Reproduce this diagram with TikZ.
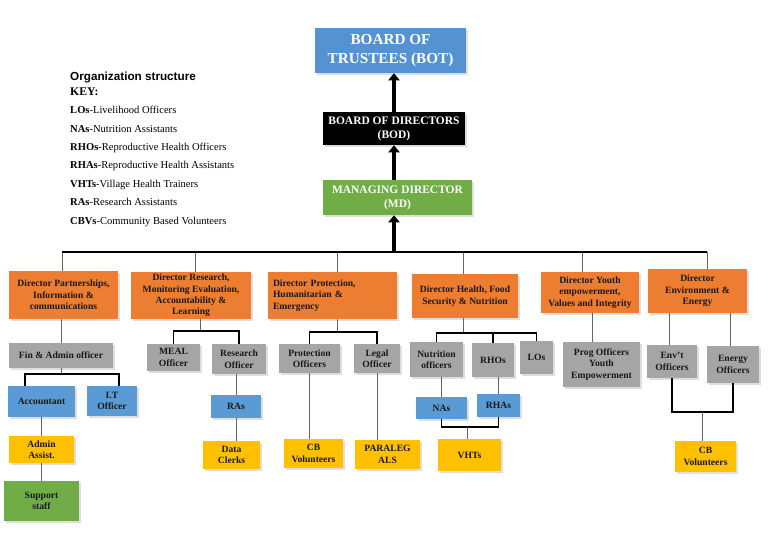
\documentclass[tikz,border=0pt]{standalone}
\usepackage{fontspec}
\setmainfont{Liberation Serif}
\newfontfamily\arialfont{Liberation Sans}
\usepackage{tikz}
\usetikzlibrary{positioning,shadows,arrows.meta}
\definecolor{botblue}{HTML}{5592D2}
\definecolor{boxblue}{HTML}{5B9BD5}
\definecolor{dirorange}{HTML}{ED7D31}
\definecolor{offgray}{HTML}{A5A5A5}
\definecolor{volyellow}{HTML}{FFC000}
\definecolor{mdgreen}{HTML}{70AD47}
\newcommand{\px}{0.03cm}

\begin{document}
\begin{tikzpicture}[x=0.03cm,y=-0.03cm,
  orgbox/.style={draw=none,inner sep=0pt,align=center,text=black!90,
    font=\bfseries\fontsize{8.2}{9.8}\selectfont,
    drop shadow={shadow xshift=1.5pt,shadow yshift=-1.5pt,fill=black!13,opacity=1}},
  dims/.style 2 args={minimum width=#1*\px,minimum height=#2*\px},
  director/.style={orgbox,fill=dirorange},
  officer/.style={orgbox,fill=offgray},
  assist/.style={orgbox,fill=boxblue},
  volunteer/.style={orgbox,fill=volyellow},
  staff/.style={orgbox,fill=mdgreen},
  thinline/.style={draw=black!60,line width=0.6pt},
  barline/.style={draw=black,line width=1.1pt},
  uparrow/.style={draw=black,line width=3.6pt,-{Triangle[width=9.5pt,length=6pt]}}]
\useasboundingbox (0,0) rectangle (768,536);

\node[anchor=west,inner sep=0pt,font=\arialfont\bfseries\fontsize{10}{12}\selectfont] (title) at (70,77.5) {Organization structure};
\node[anchor=west,inner sep=0pt,font=\bfseries\fontsize{10}{12}\selectfont] (keyhead) at (70,92) {KEY:};
\node[anchor=north west,inner sep=0pt,align=left,font=\fontsize{9}{15.7}\selectfont] (keylist) at (70,106)
  {\textbf{LOs}-Livelihood Officers\\
   \textbf{NAs}-Nutrition Assistants\\
   \textbf{RHOs}-Reproductive Health Officers\\
   \textbf{RHAs}-Reproductive Health Assistants\\
   \textbf{VHTs}-Village Health Trainers\\
   \textbf{RAs}-Research Assistants\\
   \textbf{CBVs}-Community Based Volunteers};

\node[orgbox,fill=botblue,dims={151}{45},text=white,font=\bfseries\fontsize{13}{16}\selectfont] (bot) at (390.5,50.5) {BOARD OF\\TRUSTEES (BOT)};
\node[orgbox,fill=black,dims={142}{33},text=white,font=\bfseries\fontsize{9.8}{12}\selectfont] (bod) at (394,128.5) {BOARD OF DIRECTORS\\(BOD)};
\node[orgbox,fill=mdgreen,dims={149}{35},text=white,font=\bfseries\fontsize{9.8}{12}\selectfont] (md) at (397.5,197.5) {MANAGING DIRECTOR\\(MD)};

\node[director,dims={109}{48}] (dpart) at (63.5,295) {Director Partnerships,\\Information \&\\communications};
\node[director,dims={120}{47}] (dres) at (191,295.5) {Director Research,\\Monitoring Evaluation,\\Accountability \&\\Learning};
\node[director,dims={129}{47},text width=119*\px,align=left] (dprot) at (332.5,295.5) {Director Protection,\\Humanitarian \&\\Emergency};
\node[director,dims={106}{44}] (dhealth) at (465,296) {Director Health, Food\\Security \& Nutrition};
\node[director,dims={98}{41}] (dyouth) at (590,292.5) {Director Youth\\empowerment,\\Values and Integrity};
\node[director,dims={99}{44}] (denv) at (697.5,291) {Director\\Environment \&\\Energy};

\node[officer,dims={104}{25}] (fin) at (61,355.5) {Fin \& Admin officer};
\node[assist,dims={67}{31}] (acc) at (41.5,401.5) {Accountant};
\node[assist,dims={50}{30}] (itof) at (112,401) {I.T\\Officer};
\node[volunteer,dims={65}{27}] (adm) at (41.5,449.5) {Admin\\Assist.};
\node[staff,dims={75}{40}] (sup) at (41.5,501) {Support\\staff};

\node[officer,dims={53}{27}] (meal) at (173.5,357.5) {MEAL\\Officer};
\node[officer,dims={54}{30}] (resof) at (239,359) {Research\\Officer};
\node[assist,dims={50}{23}] (ras) at (236,406.5) {RAs};
\node[volunteer,dims={57}{28}] (clerks) at (231.5,455) {Data\\Clerks};

\node[officer,dims={61}{29}] (protof) at (309.5,358.5) {Protection\\Officers};
\node[officer,dims={46}{29}] (legal) at (377,358.5) {Legal\\Officer};
\node[volunteer,dims={59}{29}] (cbvprot) at (313.5,453.5) {CB\\Volunteers};
\node[volunteer,dims={65}{29}] (para) at (387.5,454.5) {PARALEG\\ALS};

\node[officer,dims={53}{35}] (nutr) at (436.5,359.5) {Nutrition\\officers};
\node[officer,dims={42}{34}] (rhos) at (493,360) {RHOs};
\node[officer,dims={33}{33}] (los) at (536.5,357.5) {LOs};
\node[assist,dims={51}{22}] (nas) at (441.5,408) {NAs};
\node[assist,dims={43}{23}] (rhas) at (498.5,405.5) {RHAs};
\node[volunteer,dims={63}{32}] (vhts) at (469.5,455) {VHTs};

\node[officer,dims={77}{45}] (prog) at (601.5,364.5) {Prog Officers\\Youth\\Empowerment};

\node[officer,dims={50}{33}] (envof) at (672,361.5) {Env't\\Officers};
\node[officer,dims={52}{37}] (energy) at (733,364.5) {Energy\\Officers};
\node[volunteer,dims={61}{31}] (cbvenv) at (705.5,456.5) {CB\\Volunteers};

\coordinate (jpart) at (62,252);
\coordinate (jres) at (195,252);
\coordinate (jprot) at (337,252);
\coordinate (jhealth) at (463,252);
\coordinate (jyouth) at (582,252);
\coordinate (jenv) at (707,252);
\draw[thinline] (jpart) -- (jpart |- dpart.north);
\draw[thinline] (jres) -- (jres |- dres.north);
\draw[thinline] (jprot) -- (jprot |- dprot.north);
\draw[thinline] (jhealth) -- (jhealth |- dhealth.north);
\draw[thinline] (jyouth) -- (jyouth |- dyouth.north);
\draw[thinline] (jenv) -- (jenv |- denv.north);
\draw[barline,line width=1.5pt] (jpart) -- (jenv);

\draw[uparrow] (jpart -| bod) -- (md.south -| bod);
\draw[uparrow] (md.north -| bod) -- (bod.south);
\draw[uparrow] (bod.north) -- (bod.north |- bot.south);

\coordinate (finl) at (25,374);
\coordinate (finr) at (119,374);
\draw[thinline] (fin.north) -- (fin.north |- dpart.south);
\draw[thinline] (fin.south) -- (fin.south |- finl);
\draw[barline] (finl |- acc.north) -- (finl) -- (finr) -- (finr |- itof.north);
\draw[thinline] (acc.south) -- (adm.north);
\draw[thinline] (adm.south) -- (sup.north);

\coordinate (resbar) at (200,331);
\draw[thinline] (resbar |- dres.south) -- (resbar);
\draw[barline] (meal.north) |- (resbar) -| (resof.north);
\draw[thinline] (ras.north) -- (ras.north |- resof.south);
\draw[thinline] (ras.south) -- (ras.south |- clerks.north);

\coordinate (protbar) at (337,332);
\draw[thinline] (protbar |- dprot.south) -- (protbar);
\draw[barline] (protof.north) |- (protbar) -| (legal.north);
\draw[thinline] (protof.south) -- (protof.south |- cbvprot.north);
\draw[thinline] (legal.south) -- (legal.south |- para.north);

\coordinate (healthbar) at (463,333);
\draw[thinline] (healthbar |- dhealth.south) -- (healthbar);
\draw[barline] (nutr.north) |- (healthbar) -| (los.north);
\draw[barline] (rhos.north) -- (rhos.north |- healthbar);
\draw[thinline] (nas.north) -- (nas.north |- nutr.south);
\draw[thinline] (rhas.north) -- (rhas.north |- rhos.south);
\coordinate (vhtbar) at (467,427);
\draw[barline] (nas.south) |- (vhtbar) -| (rhas.south);
\draw[thinline] (vhtbar) -- (vhtbar |- vhts.north);

\coordinate (jprog) at (592,313);
\draw[thinline] (jprog) -- (jprog |- prog.north);

\coordinate (jenvof) at (669,313);
\coordinate (jenergy) at (730,313);
\draw[thinline] (jenvof) -- (jenvof |- envof.north);
\draw[thinline] (jenergy) -- (jenergy |- energy.north);
\coordinate (envbar) at (702,412);
\draw[barline] (envof.south) |- (envbar) -| (energy.south);
\draw[thinline] (envbar) -- (envbar |- cbvenv.north);
\end{tikzpicture}
\end{document}
